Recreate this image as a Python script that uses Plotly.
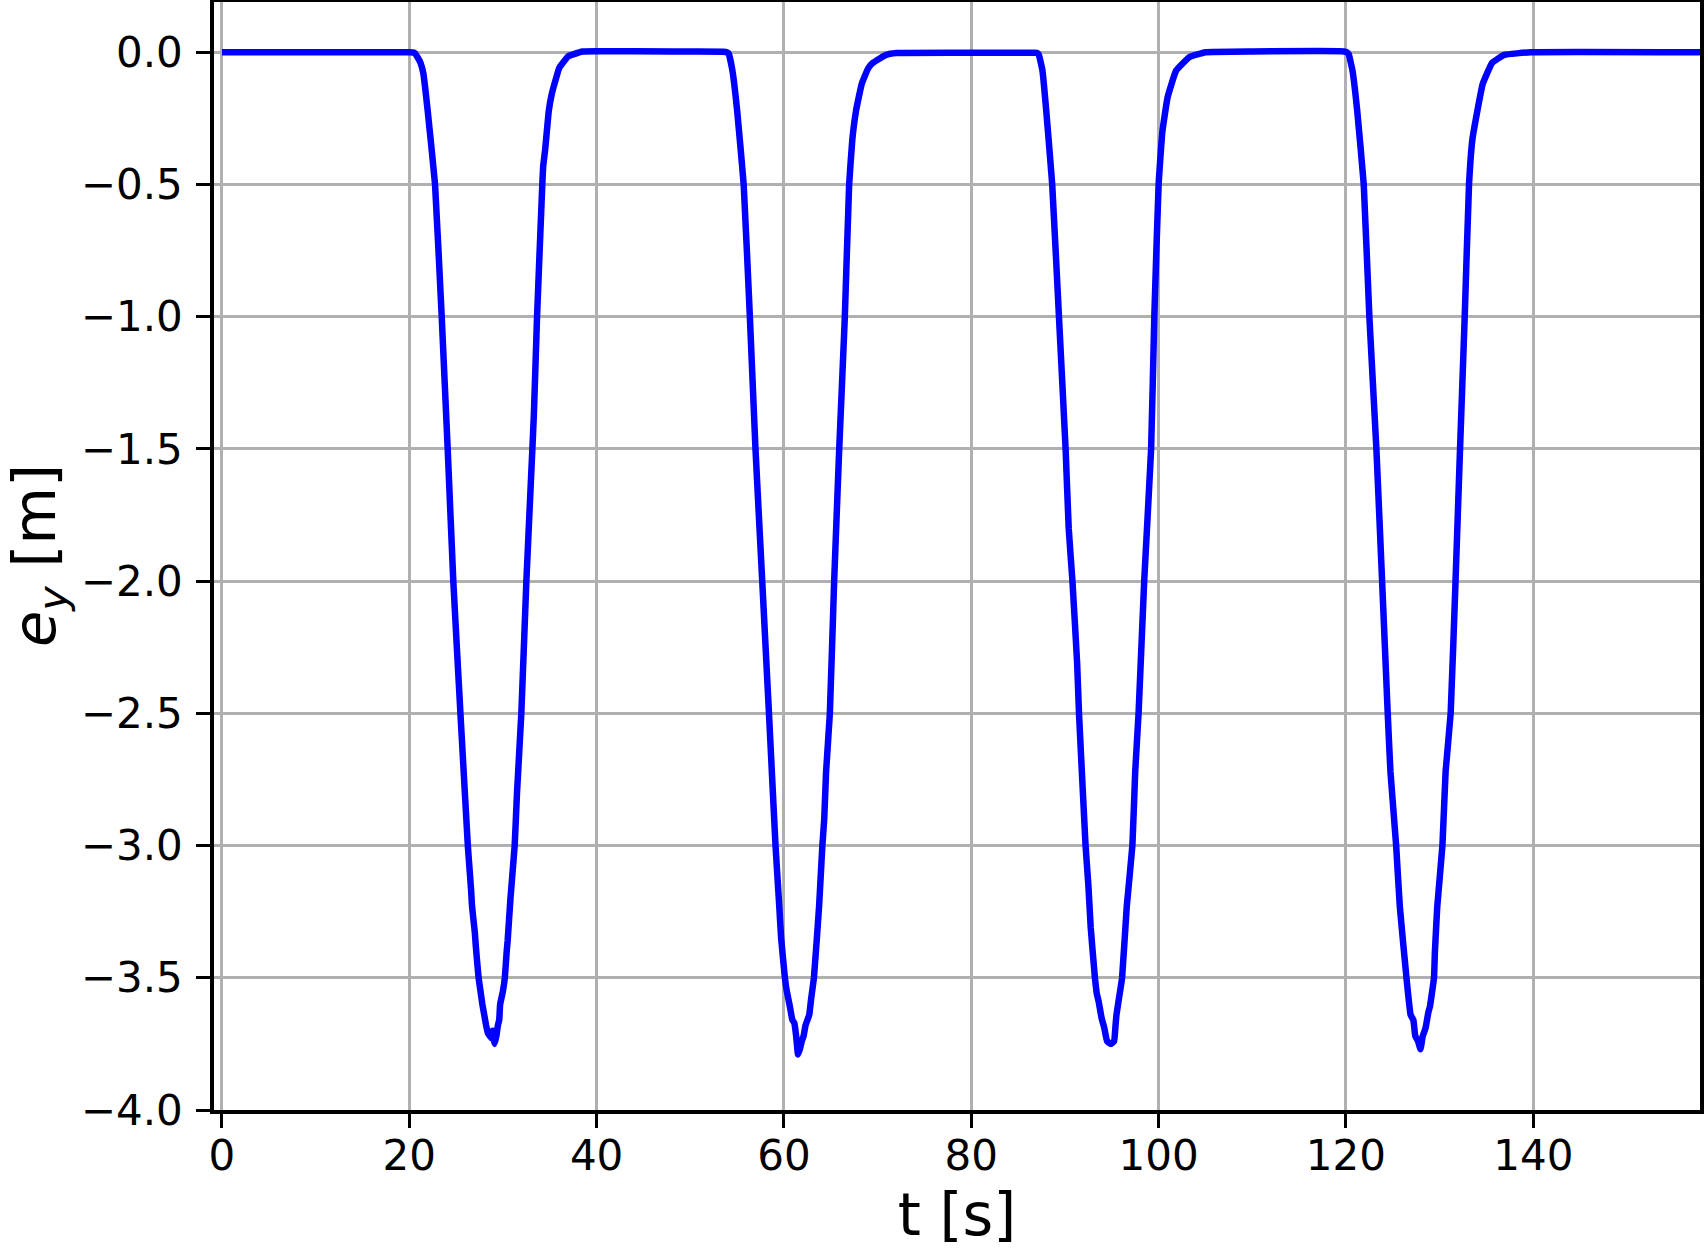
import plotly.graph_objects as go

# ---- data (t in s, e_y in m) ----
seg1_t = [0, 10, 20.0, 20.4, 20.6, 20.9, 21.2, 21.5, 21.96, 22.75, 23.46, 24.1, 24.7, 25.46, 26.25,
          26.5, 26.6, 26.7, 27.0, 27.1, 27.4, 27.6, 27.8, 28.0, 28.2, 28.4, 28.6, 28.8, 28.9,
          29.0, 29.1, 29.3, 29.46, 29.6, 29.7, 30.0, 30.2, 30.4, 30.5, 30.8, 31.25, 31.5,
          31.96, 32.5, 33.14, 33.3, 33.64, 34.2, 34.3, 34.5, 34.9, 35.2, 35.5, 36.0, 36.4,
          37.0, 37.5, 38.5]
seg1_e = [0.0, 0.0, 0.0, -0.001, -0.004, -0.02, -0.04, -0.08, -0.22, -0.5, -1.0, -1.5, -2.0, -2.5, -3.0,
          -3.12, -3.17, -3.23, -3.33, -3.38, -3.5, -3.55, -3.6, -3.64, -3.68, -3.71, -3.72, -3.73, -3.70,
          -3.73, -3.75, -3.72, -3.68, -3.66, -3.6, -3.55, -3.5, -3.40, -3.36, -3.2, -3.0, -2.8,
          -2.5, -2.0, -1.5, -1.37, -1.0, -0.5, -0.43, -0.37, -0.22, -0.16, -0.12, -0.06, -0.04,
          -0.015, -0.008, 0.003]

seg2_t = [40, 48, 53.5, 53.9, 54.1, 54.5, 55.0, 55.7, 56.36, 56.96, 57.68, 58.4, 59.1, 59.5, 59.7,
          60.1, 60.3, 60.64, 60.9, 61.1, 61.3, 61.5, 61.7, 61.9, 62.1, 62.3, 62.7, 62.9, 63.2,
          63.75, 64.1, 64.3, 64.5, 64.9, 65.36, 65.9, 66.5, 66.96, 67.3, 67.7, 68.3, 69.0,
          69.5, 70.9, 72, 80, 86.6]
seg2_e = [0.004, 0.003, 0.002, 0.0, -0.005, -0.07, -0.22, -0.5, -1.0, -1.5, -2.0, -2.5, -3.0, -3.23, -3.35,
          -3.5, -3.55, -3.61, -3.66, -3.67, -3.72, -3.79, -3.77, -3.74, -3.72, -3.68, -3.64, -3.58, -3.5,
          -3.23, -3.0, -2.9, -2.72, -2.5, -2.0, -1.5, -1.0, -0.5, -0.33, -0.22, -0.12, -0.06,
          -0.04, -0.01, -0.003, -0.002, -0.002]

seg3_t = [87.0, 87.2, 87.6, 88.0, 88.64, 89.36, 90.07, 90.4, 90.8, 91.3, 91.5, 92.2, 92.5, 92.75, 93.2,
          93.4, 93.6, 93.9, 94.2, 94.5, 94.9, 95.25, 95.4, 95.5, 95.8, 96.1, 96.6, 97.2, 97.5,
          97.86, 98.46, 99.2, 99.54, 100.0, 100.4, 100.96, 101.86, 103.3, 105, 110, 119.8]
seg3_e = [-0.002, -0.008, -0.07, -0.22, -0.5, -1.0, -1.5, -1.80, -2.0, -2.31, -2.5, -3.0, -3.15, -3.31, -3.5,
          -3.56, -3.59, -3.65, -3.69, -3.74, -3.75, -3.74, -3.68, -3.64, -3.57, -3.5, -3.23, -3.0, -2.72,
          -2.5, -2.0, -1.5, -1.0, -0.5, -0.30, -0.17, -0.07, -0.018, 0.0, 0.003, 0.003]

seg4_t = [120.1, 120.3, 120.7, 121.2, 121.9, 122.5, 123.25, 123.86, 124.46, 124.75, 125.36, 125.75, 126.46,
          126.9, 127.2, 127.4, 127.7, 127.96, 128.2, 128.5, 128.8, 128.96, 129.4, 129.5, 129.75,
          130.3, 130.64, 131.18, 131.7, 132.18, 132.68, 133.14, 133.5, 134.04, 134.6, 135.6,
          136.9, 139.75, 158.0]
seg4_e = [0.0, -0.008, -0.07, -0.22, -0.5, -1.0, -1.5, -2.0, -2.5, -2.72, -3.0, -3.23, -3.5,
          -3.64, -3.66, -3.72, -3.74, -3.77, -3.72, -3.69, -3.63, -3.61, -3.5, -3.40, -3.23,
          -3.0, -2.72, -2.5, -2.0, -1.5, -1.0, -0.5, -0.33, -0.22, -0.12, -0.04,
          -0.01, 0.0, 0.0]

x_ticks = [0, 20, 40, 60, 80, 100, 120, 140]
y_ticks = [0.0, -0.5, -1.0, -1.5, -2.0, -2.5, -3.0, -3.5, -4.0]

t = seg1_t + seg2_t + seg3_t + seg4_t
ey = seg1_e + seg2_e + seg3_e + seg4_e

fig = go.Figure()
fig.add_trace(go.Scatter(x=t, y=ey, mode="lines",
                         line=dict(color="#0000ff", width=6.5, shape="spline", smoothing=0.3),
                         showlegend=False))

font_family = "DejaVu Sans"
axis_common = dict(
    showline=True, linecolor="black", linewidth=3.5, mirror=True,
    showgrid=True, gridcolor="#b0b0b0", gridwidth=2.7,
    zeroline=False, ticks="outside", ticklen=14, tickwidth=3, tickcolor="black",
    tickfont=dict(family=font_family, size=42, color="black"),
    automargin=False,
)

fig.update_layout(
    width=1704, height=1249,
    margin=dict(l=214, r=4, t=2, b=139),
    paper_bgcolor="white", plot_bgcolor="white",
    font=dict(family=font_family, color="black"),
    xaxis=dict(range=[-0.85, 157.8], tickvals=x_ticks, ticktext=[str(v) for v in x_ticks],
               title=dict(text="t [s]", font=dict(size=59, family=font_family), standoff=21),
               ticklabelstandoff=-8, **axis_common),
    yaxis=dict(range=[-4.0, 0.19], tickvals=y_ticks,
               ticktext=[("\u2212" if v < 0 else "") + f"{abs(v):.1f}" for v in y_ticks],
               ticklabelstandoff=5, **axis_common),
)

# y-axis title placed as a rotated annotation in the left margin
fig.add_annotation(
    text="<i>e</i><sub><i>y</i></sub> [m]", textangle=-90,
    xref="paper", yref="paper", x=(38 - 214) / 1486, y=0.5,
    xanchor="center", yanchor="middle", showarrow=False,
    font=dict(size=59, family=font_family, color="black"),
)

fig.write_html("out.html")
